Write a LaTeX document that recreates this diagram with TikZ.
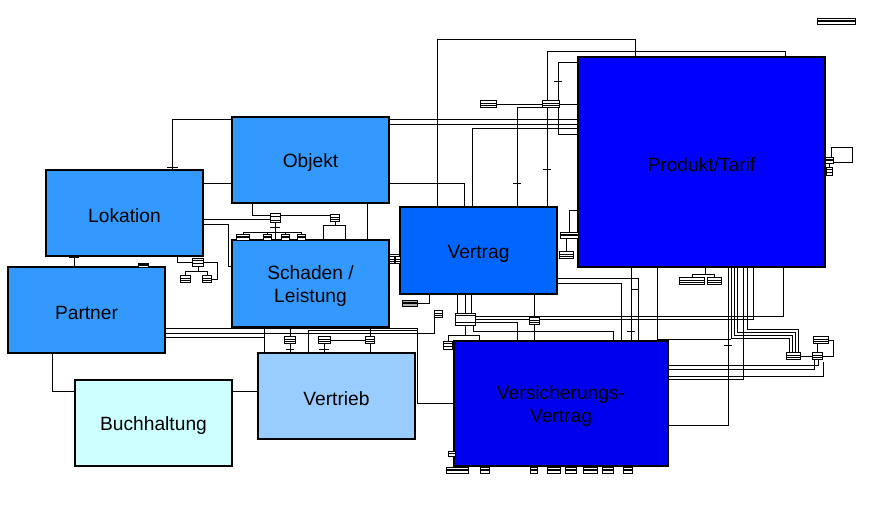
\documentclass[tikz,border=0pt]{standalone}
\usepackage{fontspec}
\newfontfamily\entfont{Liberation Sans}
\usetikzlibrary{backgrounds}
\definecolor{cObj}{HTML}{3399FF}
\definecolor{cVtb}{HTML}{99CCFF}
\definecolor{cBuc}{HTML}{CCFFFF}
\definecolor{cVtg}{HTML}{0066FF}
\definecolor{cPrd}{HTML}{0000FF}
\definecolor{cVsv}{HTML}{0000EE}
\pgfdeclarelayer{bg}
\pgfsetlayers{bg,main}
\tikzset{
  conn/.style={line width=0.9pt},
  tickm/.style={line width=1pt},
  ent/.style={draw, line width=1.2pt, inner sep=0pt},
  lbl/.style={inner sep=0pt, align=center, font=\entfont\fontsize{19.2}{23}\selectfont},
  tbl/.style={draw, fill=white, line width=0.7pt, inner sep=0pt, minimum height=7pt,
    path picture={
      \draw[line width=0.5pt] ([yshift=-2.4pt]path picture bounding box.north west) -- ([yshift=-2.4pt]path picture bounding box.north east);
      \draw[line width=0.5pt] ([yshift=2.4pt]path picture bounding box.south west) -- ([yshift=2.4pt]path picture bounding box.south east);}},
}
\begin{document}
\begin{tikzpicture}[x=1pt,y=-1pt]
\useasboundingbox (0,0) rectangle (880,518);
% entities
\node[ent, fill=cObj, minimum width=157, minimum height=86] (obj) at (310.5,160) {};
\node[ent, fill=cObj, minimum width=157, minimum height=86] (lok) at (124.5,213) {};
\node[ent, fill=cObj, minimum width=157, minimum height=86] (par) at (86.5,310) {};
\node[ent, fill=cObj, minimum width=157, minimum height=87] (sch) at (310.5,283.5) {};
\node[ent, fill=cVtb, minimum width=157, minimum height=86] (ver) at (336.5,396) {};
\node[ent, fill=cBuc, minimum width=157, minimum height=86] (buc) at (153.5,423) {};
\node[ent, fill=cVtg, minimum width=157, minimum height=87] (vtg) at (478.5,250.5) {};
\node[ent, fill=cPrd, minimum width=247, minimum height=210] (prd) at (701.5,162) {};
\node[ent, fill=cVsv, minimum width=214, minimum height=125] (vsv) at (561,403.5) {};
\node[lbl] (objT) at ([yshift=-3pt]obj.center) {Objekt};
\node[lbl] (lokT) at ([yshift=-3pt]lok.center) {Lokation};
\node[lbl] (parT) at ([yshift=-3pt]par.center) {Partner};
\node[lbl] (schT) at ([yshift=-3pt]sch.center) {Schaden /\\Leistung};
\node[lbl] (verT) at ([yshift=-3pt]ver.center) {Vertrieb};
\node[lbl] (bucT) at ([yshift=-3pt]buc.center) {Buchhaltung};
\node[lbl] (vtgT) at ([yshift=-3pt]vtg.center) {Vertrag};
\node[lbl] (prdT) at ([yshift=-3pt]prd.center) {Produkt/Tarif};
\node[lbl] (vsvT) at ([yshift=-3pt]vsv.center) {Versicherungs-\\Vertrag};
% small tables
\node[tbl, minimum width=16] (tA) at (488,104) {};
\node[tbl, minimum width=17] (tB) at (551,104) {};
\node[tbl, minimum width=10, minimum height=9] (tC) at (275,218) {};
\node[tbl, minimum width=9] (tD) at (335,218) {};
\node[tbl, minimum width=13, minimum height=6] (tE) at (243,237) {};
\node[tbl, minimum width=8, minimum height=6] (tF) at (267,237) {};
\node[tbl, minimum width=8, minimum height=6] (tG) at (285,237) {};
\node[tbl, minimum width=8, minimum height=6] (tH) at (301,237) {};
\node[tbl, minimum width=11, minimum height=8] (tI) at (198,262) {};
\node[tbl, minimum width=10] (tJ) at (185,279) {};
\node[tbl, minimum width=9] (tK) at (207,279) {};
\node[tbl, minimum width=10, minimum height=4] (tLp) at (143,265) {};
\node[tbl, minimum width=8] (tL) at (438,314) {};
\node[tbl, minimum width=11] (tM) at (290,340) {};
\node[tbl, minimum width=12] (tN) at (324,340) {};
\node[tbl, minimum width=9] (tO) at (370,340) {};
\node[tbl, minimum width=5] (tS1) at (392,260) {};
\node[tbl, minimum width=5] (tS2) at (398,260) {};
\node[tbl, minimum width=20, minimum height=12] (tP) at (465,319) {};
\node[tbl, minimum width=9, minimum height=8] (tQ) at (448,345) {};
\node[tbl, minimum width=10] (tR) at (534,321) {};
\node[tbl, minimum width=15, minimum height=6, fill=gray!60] (tG2) at (410,303) {};
\node[tbl, minimum width=18, minimum height=6] (tX) at (569,235) {};
\node[tbl, minimum width=14] (tX2) at (566,255) {};
\node[tbl, minimum width=25] (tV) at (692,281) {};
\node[tbl, minimum width=14] (tW) at (714,281) {};
\node[tbl, minimum width=14] (tS) at (793,356) {};
\node[tbl, minimum width=10] (tT) at (817,356) {};
\node[tbl, minimum width=15] (tU) at (821,340) {};
\node[draw, line width=0.8pt, minimum width=21, minimum height=15, inner sep=0pt] (rb) at (841.5,154.5) {};
\node[tbl, minimum width=8, minimum height=6] (tY) at (829,160) {};
\node[tbl, minimum width=6, minimum height=8] (tY2) at (829,171) {};
\node[tbl, minimum width=38, minimum height=6] (tZ) at (836,21) {};
\node[tbl, minimum width=7, minimum height=5] (tb0) at (451.5,453.5) {};
\node[tbl, minimum width=22, minimum height=6] (tb1) at (457,470) {};
\node[tbl, minimum width=9, minimum height=6] (tb2) at (484.5,470) {};
\node[tbl, minimum width=7, minimum height=6] (tb3) at (533.5,470) {};
\node[tbl, minimum width=13, minimum height=6] (tb4) at (553.5,470) {};
\node[tbl, minimum width=11, minimum height=6] (tb5) at (570.5,470) {};
\node[tbl, minimum width=14, minimum height=6] (tb6) at (590,470) {};
\node[tbl, minimum width=11, minimum height=6] (tb7) at (607.5,470) {};
\node[tbl, minimum width=9, minimum height=6] (tb8) at (627.5,470) {};
\begin{pgfonlayer}{bg}
\fill[white] (0,0) rectangle (880,518);
% top connectors
\draw[conn] (437,0 |- vtg.north) -- (437,39) -| (635,0 |- prd.north);
\draw[conn] (547,0 |- vtg.north) -- (547,51) -| (785,0 |- prd.north);
\draw[conn] (558,0 |- tB.north) |- (prd.west |- 0,62);
\draw[conn] (558,0 |- tB.south) |- (prd.west |- 0,134);
\draw[conn] (tA.east) -- (tB.west);
\draw[conn] (tB.east) -- (prd.west |- tB.east);
\draw[conn] (obj.east |- 0,119) -- (prd.west |- 0,119);
\draw[conn] (obj.east |- 0,124) -- (prd.west |- 0,124);
\draw[conn] (472,0 |- vtg.north) |- (prd.west |- 0,128);
\draw[conn] (517,0 |- vtg.north) |- (tB.west |- 0,107);
\draw[conn] (lok.east |- 0,183) -| (464,0 |- vtg.north);
\draw[conn] (obj.west |- 0,119) -| (172,0 |- lok.north);
% Objekt / Lokation / Schaden
\draw[conn] (lok.east |- 0,219) -- (tC.west |- 0,219);
\draw[conn] (lok.east |- 0,224) -| (228,266) -- (sch.west |- 0,266);
\draw[conn] (252,0 |- obj.south) |- (tC.west |- 0,215);
\draw[conn] (tC.east |- 0,215) -- (tD.west |- 0,215);
\draw[conn] (tC.south) -- (275,0 |- sch.north);
\draw[conn] (tE.north) |- (tH.north |- 0,232) -- (tH.north);
\draw[conn] (267,232) -- (tF.north);
\draw[conn] (285,232) -- (tG.north);
\draw[conn] (tD.south) -- (335,225);
\draw[conn] (323,0 |- sch.north) |- (345,225) -- (345,0 |- sch.north);
\draw[conn] (367,0 |- obj.south) -- (367,0 |- sch.north);
\draw[conn] (74,0 |- lok.south) -- (74,0 |- par.north);
\draw[conn] (177,0 |- lok.south) |- (tI.west);
\draw[conn] (tI.south) -- (198,271);
\draw[conn] (tJ.north) |- (tK.north |- 0,271) -- (tK.north);
\draw[conn] (tI.east) -| (217,0 |- tK.east) -- (tK.east);
% Partner / Buchhaltung / Vertrieb
\draw[conn] (52,0 |- par.south) |- (buc.west |- 0,391);
\draw[conn] (buc.east |- 0,391) -- (ver.west |- 0,391);
\draw[conn] (par.east |- 0,328) -| (417,403) -- (vsv.west |- 0,403);
\draw[conn] (par.east |- 0,333) -| (434,0 |- tL.south);
\draw[conn] (par.east |- 0,337) -| (264,0 |- ver.north);
\draw[conn] (264,0 |- sch.south) -- (264,337);
\draw[conn] (290,0 |- sch.south) -- (tM.north);
\draw[conn] (tM.south) -- (290,0 |- ver.north);
\draw[conn] (308,0 |- ver.north) |- (417,330);
\draw[conn] (tN.east) -- (tO.west);
\draw[conn] (tN.south) -- (324,0 |- ver.north);
\draw[conn] (370,0 |- sch.south) -- (tO.north);
\draw[conn] (tO.south) -- (370,0 |- ver.north);
\draw[conn] (sch.east |- 0,254) -- (vtg.west |- 0,254);
\draw[conn] (sch.east |- 0,257) -- (vtg.west |- 0,257);
% Vertrag bottom
\foreach \xx in {457,465,471} \draw[conn] (\xx,0 |- vtg.south) -- (\xx,0 |- tP.north);
\draw[conn] (tP.east |- 0,316) -| (783,0 |- prd.south);
\draw[conn] (tP.east |- 0,319) -| (753,0 |- prd.south);
\draw[conn] (tP.east |- 0,322) -| (517,0 |- vsv.north);
\draw[conn] (473,0 |- tP.south) |- (613,331) -- (613,0 |- vsv.north);
\draw[conn] (tP.south) -- (465,335);
\draw[conn] (tQ.north) |- (479,335) -- (479,0 |- vsv.north);
\draw[conn] (534,0 |- vtg.south) -- (tR.north);
\draw[conn] (tR.south) -- (534,0 |- vsv.north);
\draw[conn] (vtg.east |- 0,278) -| (638,0 |- vsv.north);
\draw[conn] (vtg.east |- 0,283) -| (621,0 |- vsv.north);
\draw[conn] (tG2.east) -| (429,0 |- vtg.south);
% Produkt bottom
\draw[conn] (631,0 |- prd.south) -- (631,0 |- vsv.north);
\draw[conn] (657,0 |- prd.south) |- (731,339);
\draw[conn] (728,0 |- prd.south) |- (vsv.east |- 0,425);
\draw[conn] (731,0 |- prd.south) |- (789,338) -- (789,0 |- tS.north);
\draw[conn] (734,0 |- prd.south) |- (792,335) -- (792,0 |- tS.north);
\draw[conn] (737,0 |- prd.south) |- (795,332) -- (795,0 |- tS.north);
\draw[conn] (747,0 |- prd.south) |- (798,329) -- (798,0 |- tS.north);
\draw[conn] (tS.east) -- (tT.west);
\draw[conn] (tT.north) -- (817,0 |- tU.south);
\draw[conn] (tU.east) -| (833,0 |- tT.east) -- (tT.east);
\draw[conn] (vsv.east |- 0,365) -| (818,0 |- tT.south);
\draw[conn] (vsv.east |- 0,369) -| (814,0 |- tT.south);
\draw[conn] (vsv.east |- 0,376) -| (823,362);
\draw[conn] (vsv.east |- 0,379) -| (743,0 |- prd.south);
\draw[conn] (705,0 |- prd.south) -- (705,274);
\draw[conn] (tV.north) |- (tW.north |- 0,274) -- (tW.north);
\draw[conn] (tX.north) |- (prd.west |- 0,210);
\draw[conn] (566,0 |- tX.south) -- (tX2.north);
\draw[conn] (rb.south west) -- (tY.east);
\draw[conn] (tY.south) -- (tY2.north);
% cardinality ticks
\draw[tickm] (167,168) -- (178,168);
\draw[tickm] (69,258) -- (79,258);
\draw[tickm] (627,331) -- (635,331);
\draw[tickm] (724,345) -- (732,345);
\draw[tickm] (554,82) -- (562,82);
\draw[tickm] (543,170) -- (551,170);
\draw[tickm] (513,184) -- (521,184);
\draw[tickm] (319,349) -- (329,349);
\draw[tickm] (286,349) -- (294,349);
\draw[tickm] (270,228) -- (280,228);
\draw[tickm] (631,290) -- (639,290);
\end{pgfonlayer}
\end{tikzpicture}
\end{document}
